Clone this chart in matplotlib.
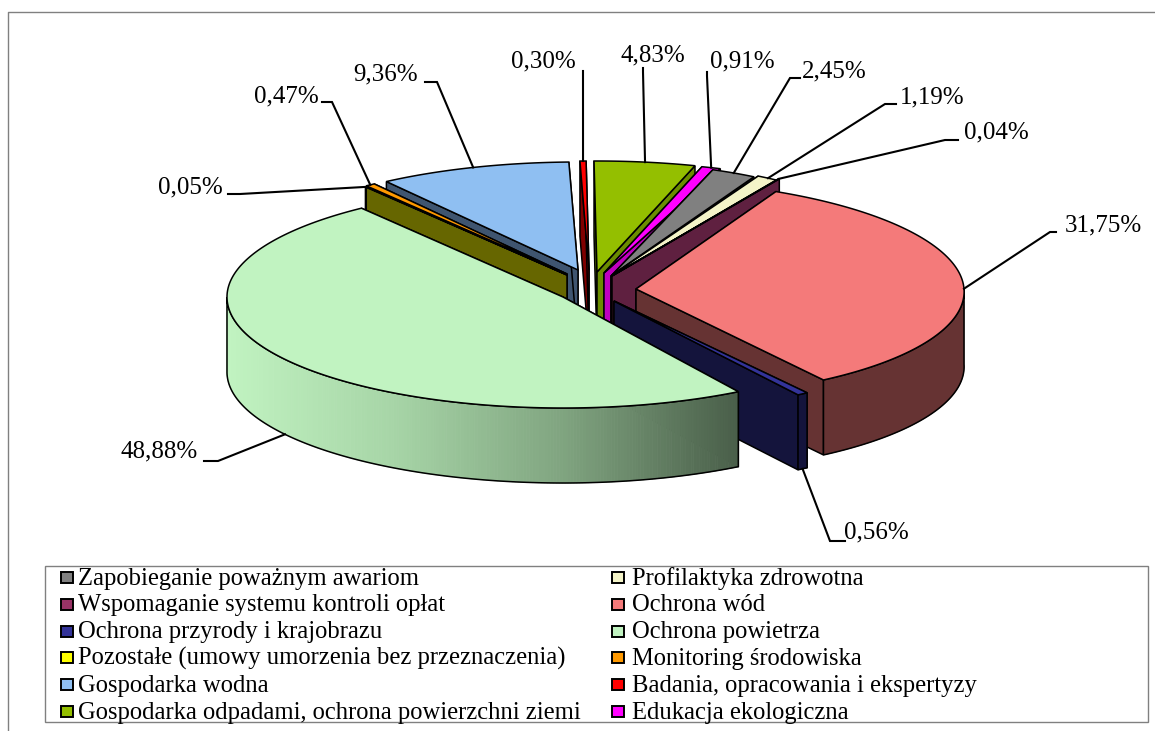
import numpy as np
import matplotlib
matplotlib.use("Agg")
import matplotlib.pyplot as plt
from matplotlib.colors import LinearSegmentedColormap
from matplotlib.patches import Polygon, Rectangle

plt.rcParams['font.family'] = ['Liberation Serif', 'DejaVu Serif']

# data, in legend order
names = ["Zapobieganie poważnym awariom", "Profilaktyka zdrowotna",
         "Wspomaganie systemu kontroli opłat", "Ochrona wód",
         "Ochrona przyrody i krajobrazu", "Ochrona powietrza",
         "Pozostałe (umowy umorzenia bez przeznaczenia)", "Monitoring środowiska",
         "Gospodarka wodna", "Badania, opracowania i ekspertyzy",
         "Gospodarka odpadami, ochrona powierzchni ziemi", "Edukacja ekologiczna"]
values = [2.45, 1.19, 0.04, 31.75, 0.56, 48.88, 0.05, 0.47, 9.36, 0.30, 4.83, 0.91]

# colours
top_col = ["#808080", "#F4F4C8", "#993366", "#F47A7A", "#333399", "#C1F3C1",
           "#FFFF00", "#FF9900", "#8FBFF2", "#FF0000", "#94BF00", "#FF00FF"]
side_col = ["#404040", "#7A7A64", "#5F2040", "#663333", "#14143C", "#4A5F4A",
            "#666600", "#804D00", "#3F5570", "#800000", "#6B8C00", "#C000C0"]
leg_col = top_col

# slice geometry in pixels: centre x, centre y, rx, ry, shear
cx = [612, 611, 612, 636, 614, 563, 567, 567, 578, 589, 597, 604]
cy = [275, 276, 276, 289, 301, 297, 275, 274, 270, 270, 272, 273]
rx = [295, 306, 306, 328, 320, 336, 336, 336, 334, 330, 340, 340]
ry = [112, 114, 116, 109, 110, 111, 110, 110, 108, 109, 111, 111]
shear = [0, 0, 0, 8, 20, 0, 0, 0, 0, 0, 0, 0]
edge_nudge = [0, 0, 0, 6.5, 0, 0, 0, 0, 0, 0, 0, 0]  # perspective widens the pink one
depth = 75
start_angle = 70.0
paint_order = [8, 7, 6, 9, 10, 11, 0, 1, 2, 3, 4, 5]

# labels
lab_text = ["2,45%", "1,19%", "0,04%", "31,75%", "0,56%", "48,88%",
            "0,05%", "0,47%", "9,36%", "0,30%", "4,83%", "0,91%"]
lab_x = [834, 932, 996, 1103, 876, 159, 190, 286, 386, 543, 653, 742]
lab_y = [71, 97, 132, 225, 532, 451, 187, 96, 74, 61, 55, 61]
# leader: outer end, elbow
lead_a = [(800, 78), (896, 104), (958, 140), (1056, 232), (845, 541), (204, 461),
          (228, 194), (322, 102), (425, 82), (583, 71), (643, 68), (707, 72)]
lead_b = [(790, 78), (885, 104), (945, 140), (1050, 232), (830, 541), (218, 461),
          (240, 194), (332, 102), (437, 82), (583, 75), (643, 72), (707, 76)]
lead_low = [False, False, False, False, True, True,
            False, False, False, False, False, False]

green_ramp = LinearSegmentedColormap.from_list("g", ["#C1F3C1", "#A6D4A6", "#7FA37F", "#4A5F4A"])


def rim(i, t):
    t = np.radians(t)
    x = cx[i] + rx[i] * np.cos(t) - shear[i] * np.sin(t)
    y = cy[i] - ry[i] * np.sin(t)
    return x, y


fig = plt.figure(figsize=(11.55, 7.31), dpi=100)
ax = fig.add_axes([0, 0, 1, 1])
ax.set_xlim(0, 1155)
ax.set_ylim(731, 0)
ax.axis("off")

# outer chart frame
ax.plot([7.5, 7.5, 1155], [731, 11.5, 11.5], color="#808080", lw=1)

sweeps = np.array(values) / sum(values) * 360.0
ends = start_angle - np.cumsum(sweeps)
starts = ends + sweeps

for i in paint_order:
    t1 = starts[i] + edge_nudge[i]
    t2 = ends[i]
    ts = np.linspace(t1, t2, max(3, int(abs(t1 - t2) * 2)))
    xs, ys = rim(i, ts)

    # radial faces
    for k in (0, -1):
        face = [(cx[i], cy[i]), (xs[k], ys[k]), (xs[k], ys[k] + depth), (cx[i], cy[i] + depth)]
        ax.add_patch(Polygon(face, closed=True, fc=side_col[i], ec="black", lw=1.1))

    # outer wall, front part only
    front = np.sin(np.radians(ts)) <= 0
    if front.sum() > 1:
        fx, fy = xs[front], ys[front]
        if i == 5:
            for j in range(len(fx) - 1):
                frac = (fx[j] - fx.min()) / (fx.max() - fx.min())
                q = [(fx[j], fy[j]), (fx[j + 1], fy[j + 1]),
                     (fx[j + 1], fy[j + 1] + depth), (fx[j], fy[j] + depth)]
                c = green_ramp(frac)
                ax.add_patch(Polygon(q, closed=True, fc=c, ec=c, lw=0.6))
        else:
            q = list(zip(fx, fy)) + list(zip(fx[::-1], fy[::-1] + depth))
            ax.add_patch(Polygon(q, closed=True, fc=side_col[i], ec=side_col[i], lw=0.5))
        q = list(zip(fx, fy)) + list(zip(fx[::-1], fy[::-1] + depth))
        ax.add_patch(Polygon(q, closed=True, fc="none", ec="black", lw=1.1))

    # top
    top = [(cx[i], cy[i])] + list(zip(xs, ys))
    ax.add_patch(Polygon(top, closed=True, fc=top_col[i], ec="black", lw=1.1))

# labels and leaders
for i, txt in enumerate(lab_text):
    ax.text(lab_x[i], lab_y[i], txt, ha="center", va="center", fontsize=18, color="black")
    ex, ey = rim(i, (starts[i] + ends[i]) / 2)
    if lead_low[i]:
        ey += depth
    ax.plot([lead_a[i][0], lead_b[i][0], ex], [lead_a[i][1], lead_b[i][1], ey],
            color="black", lw=1.5, solid_joinstyle="miter")

# legend
ax.add_patch(Rectangle((44.5, 565.5), 1103, 156, fc="white", ec="#808080", lw=1))
col_x = [61, 612]
text_x = [78, 632]
row0 = 572
row_h = 26.8
for i, name in enumerate(names):
    r, c = i // 2, i % 2
    ax.add_patch(Rectangle((col_x[c], row0 + r * row_h), 12, 11, fc=leg_col[i], ec="black", lw=1.4))
    ax.text(text_x[c], row0 + 6.5 + r * row_h, name, ha="left", va="center",
            fontsize=17.7, color="black")

fig.savefig("out.png", dpi=100)
